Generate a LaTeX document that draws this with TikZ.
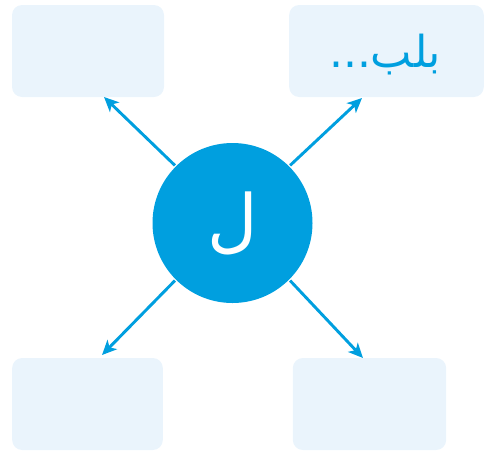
\documentclass[tikz,border=0pt]{standalone}
\usepackage{fontspec}
\usetikzlibrary{arrows.meta}
\TeXXeTstate=1
\newfontfamily\arabicfont[Script=Arabic]{DejaVu Sans}
\definecolor{letterblue}{HTML}{009FDF}
\definecolor{boxfill}{HTML}{EAF4FC}
\begin{document}
\begin{tikzpicture}[
        x = 0.75pt, y = -0.75pt,
        > = {Stealth[length = 11pt, width = 10pt, inset = 3pt]},
        line width = 2.2pt,
        answer/.style = {fill = boxfill, draw = none, rounded corners = 7.5pt, minimum height = 69pt, inner sep = 0pt},
        link/.style = {->, draw = letterblue}
    ]
        \useasboundingbox (0,0) rectangle (488,454);
        \node[answer, minimum width = 114pt] (topleft) at (88,51) {};
        \node[answer, minimum width = 146pt] (topright) at (386.5,51) {};
        \node[text = letterblue, font = \arabicfont\fontsize{33}{33}\selectfont, inner sep = 0pt] (word) at (385,55) {\beginR بلب...\endR};
        \node[answer, minimum width = 113pt] (bottomleft) at (87.5,404) {};
        \node[answer, minimum width = 115pt] (bottomright) at (369.5,404) {};
        \node[circle, fill = letterblue, minimum size = 120pt, inner sep = 0pt, text = white, font = \arabicfont\fontsize{52}{52}\selectfont] (letter) at (232.5,223) {\beginR ل\endR};
        \coordinate (tipA) at (104,97);
        \coordinate (tipB) at (362,98);
        \coordinate (tipC) at (102,355);
        \coordinate (tipD) at (363,358);
        \draw[link] (letter.135) -- (tipA);
        \draw[link] (letter.45) -- (tipB);
        \draw[link] (letter.225) -- (tipC);
        \draw[link] (letter.315) -- (tipD);
    \end{tikzpicture}
\end{document}
